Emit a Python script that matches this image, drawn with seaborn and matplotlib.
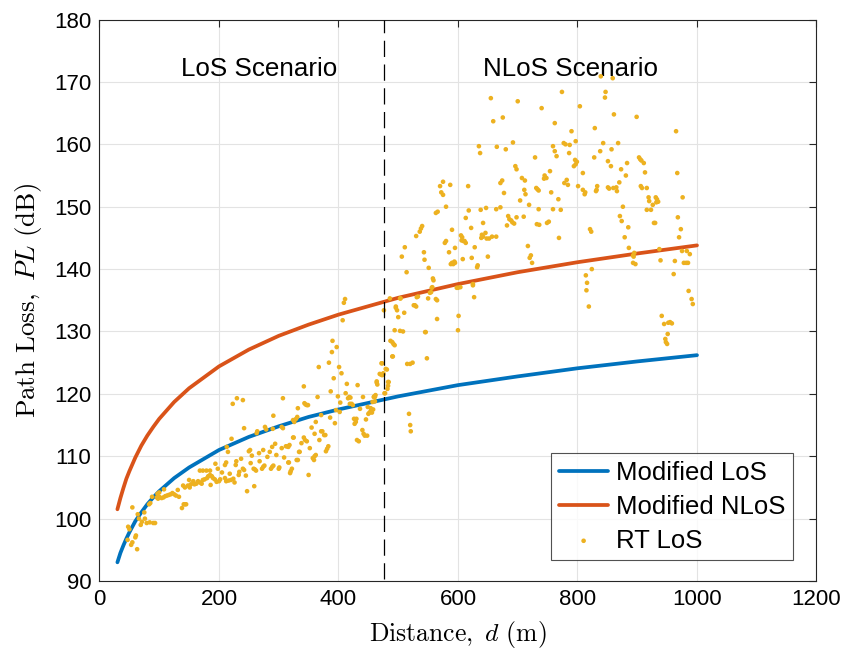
import numpy as np
import pandas as pd
import matplotlib
matplotlib.use("Agg")
import matplotlib.pyplot as plt
import seaborn as sns

# ---- model curves ----
dist_model = [30, 35, 40, 45, 50, 60, 70, 80, 90, 100, 125, 150, 200, 250, 300,
              350, 400, 500, 600, 700, 800, 900, 1000]
pl_los = [93.0, 94.5, 95.7, 96.8, 97.8, 99.6, 101.0, 102.3, 103.4, 104.4, 106.5,
          108.2, 111.0, 113.1, 114.8, 116.3, 117.5, 119.6, 121.4, 122.8, 124.1,
          125.2, 126.2]
pl_nlos = [101.5, 103.3, 104.9, 106.4, 107.6, 109.8, 111.7, 113.3, 114.7, 116.0,
           118.7, 120.9, 124.4, 127.1, 129.3, 131.1, 132.7, 135.4, 137.6, 139.5,
           141.1, 142.5, 143.8]

# ---- ray-tracing samples ----
rt_pts = [
(55,101.8),(48,98.7),(50,98.3),(47,96.6),(53,95.8),(55,96.2),(63,95.1),(60,97),(61,97.3),
(64,100.7),(66,100),(69,99),(71,99.5),(75,101),(76,100),(79,99.3),(84,99.4),(90,99.3),
(93,99.3),(83,102.3),(85,102.5),(88,103.5),(96,103.4),(98,103.2),(100,103.5),(104,103.3),
(107,103.4),(110,103.6),(113,103.7),(116,103.8),(119,103.9),(122,104.1),(125,103.9),
(128,103.7),(133,103.5),(97,104),(100,104.2),(108,104.7),(138,101.7),(141,102.3),
(143,102.3),(145,102.3),(131,104.6),(140,105.3),(143,105),(148,105.3),(151,105),
(153,105.5),(157,106),(159,105.5),(162,105.6),(165,106),(168,105.8),(171,105.6),
(173,106.2),(176,106.3),(150,106.2),(168,107.7),(173,107.7),(179,107.7),(185,107.7),
(180,106.5),(182,106.8),(185,107),(188,106.8),(190,106.5),(193,106.3),(194,108.8),
(200,106),(202,106.3),(198,108),(210,106.5),(212,106),(216,106.1),(220,106.2),
(224,106.4),(210,108.6),(212,109),(213,111.5),(215,110.7),(221,112.8),(223,118.4),
(230,119.3),(240,119),(228,108.6),(229,109.2),(233,107),(234,107.5),(240,108),
(242,107.8),(242,114.5),(247,104.4),(250,110.8),(252,111),(255,110.1),(258,108),
(260,107.9),(262,107.7),(259,105.2),(263,113.7),(264,114),(267,110.5),(272,108),
(274,108.3),(276,108.5),(274,111),(277,114.7),(279,114.3),(287,108),(289,108.3),
(291,108.5),(285,110.7),(289,111.5),(290,114.4),(291,116.5),(294,112),(300,108),
(301,108.2),(305,111.3),(307,119.3),(307,114.5),(314,111.6),(316,111.5),(318,111.8),
(316,109),(320,107.6),(322,108),(324,113),(329,116),(331,116.3),(330,109.4),(334,110.7),
(305,114.7),(312,111.6),(317,109),(319,107.3),(324,115.8),(326,115.5),(325,113),
(332,109.4),(335,110.7),(332,117.7),(343,118.5),(345,118.3),(347,118.2),(349,118.2),
(342,113),(344,112.6),(342,121.2),(347,112.4),(350,107),(357,109.7),(359,109.4),
(360,110),(362,110.2),(360,113.6),(362,115.5),(365,119.5),(367,124.3),(371,114),
(373,114),(376,113.4),(378,113.4),(371,116.6),(379,110.8),(381,111.2),(383,111.6),
(384,125),(387,120.4),(389,126.7),(390,128.5),(397,127.5),(392,122.5),(396,117.4),
(399,119.6),(401,124.3),(402,117.1),(405,123.3),(407,131.8),(409,134.6),(411,135.2),
(412,120.1),(416,119.3),(418,119.5),(420,119.4),(419,118.4),(422,118.4),(424,118.2),
(426,116),(430,116),(427,115.2),(429,115.5),(431,112.6),(434,112.4),(432,121.4),
(440,114.2),(442,113.6),(444,113.3),(448,113.3),(441,119.5),(450,116.8),(452,117),
(454,117.2),(456,117),(458,117.5),(449,117.9),(459,119.5),(461,119.5),(462,119.8),
(461,118.8),(464,121.8),(465,121.5),(471,123.1),(473,123.0),(475,123.1),(473,124.9),
(476,133.4),(479,124),(483,121.3),(484,121.9),(477,120.1),(472,124.9),(475,123.3),
(469,123.2),(481,123.9),(464,122),(483,121.9),(482,120.8),(478,120.1),(460,119.6),
(457,118.7),(454,117.7),
(186,105.4),(196,105.9),(205,107.4),(218,107.2),(226,105.8),(237,109.6),(245,106.9),
(253,108.9),(268,109.2),(281,109.9),(296,110.2),(309,109.8),(338,112.1),(352,111.3),
(355,114.6),(368,112.6),(386,116.2),(394,115.3),(403,118.6),(414,121.6),(436,117.6),
(446,115.9),
(486,135.3),(490,128.3),(492,128),(494,127.8),(490,126),(494,130.2),(503,130.1),
(508,130),(496,133.8),(498,133.4),(500,132.3),(503,135.3),(510,133),(520,124.8),
(524,125),(518,116.8),(520,115),(521,114),(528,134.2),(530,134),(531,135.5),(533,135.6),
(546,129.9),(548,125.7),(550,135.3),(555,136.3),(556,137),(565,135),(565,132),(598,137),
(600,130.2),(601,132.5),(625,137.4),(627,135.5),
(570,153.3),(572,152.3),(575,151.9),(575,154),(587,153.5),(617,153.3),(580,150),
(563,149),(566,149.2),(540,146.9),(536,146),(538,146.5),(530,145.3),(590,146.3),
(578,144.2),(580,144.5),(511,143.5),(543,142.7),(544,141.5),(506,142),(585,142.7),
(595,143.4),(607,145.1),(609,144.5),(613,144.2),(611,144.5),(618,149.4),(613,148.2),
(622,146.6),(628,143.5),(608,141.6),(623,141.8),(588,140.8),(592,140.8),(594,141.2),
(551,140.2),(514,139.5),(632,140.3),(633,140.6),(558,138.5),(559,138.2),(557,137.1),
(553,136.2),(600,137),(604,137.1),(487,128.5),(491,126),(515,124.8),(545,129.9),
(563,135.2),(526,134.2),(496,134),(504,135.3),
(655,167.4),(700,166.9),(659,163.7),(675,164.3),(740,165.8),(774,168.4),(804,166.1),
(762,163.4),(790,162.1),(635,159.7),(637,158.6),(665,159.6),(680,159.2),(692,160.3),
(729,157.9),(759,159.7),(762,158.9),(765,158.1),(777,160.2),(780,160),(787,159.9),
(797,160.5),(786,158.6),(696,156.5),(698,156),(707,154.6),(712,154.2),(745,155),
(748,154.6),(744,154.5),(754,155.7),(782,154.3),(784,153.5),(778,153.8),(794,156.5),
(796,157.5),(799,157.2),(797,156.8),(809,155.4),(671,153.8),(674,154.2),(677,152.2),
(711,152.7),(713,152),(704,151),(731,153),(733,152.8),(735,152.6),(756,152.3),
(809,152.7),(812,152),(813,152.3),(768,151.2),(638,149.5),(647,149.8),(664,149.6),
(671,149.9),(719,150.3),(735,149.6),(759,149.6),(772,149.5),(642,147.4),(684,148.5),
(686,148),(689,147.8),(691,147.5),(694,147.3),(698,148.3),(710,148.4),(682,147),
(732,147.2),(736,147.1),(749,147.4),(752,147.6),(605,145.4),(606,144.6),(640,145.5),
(642,145.2),(646,145.8),(648,144.9),(652,144.9),(657,145.2),(664,145.2),(639,145),
(717,143.7),(720,141.8),(722,142.2),(724,141),(769,145),(650,142),(590,141),(595,141),
(625,137.6),(814,139),(816,137.8),(815,136.6),(819,134),
(839,170.9),(859,170.6),(847,168.4),(846,167.5),(861,164.8),(899,164.4),(829,162.6),
(965,162.1),(843,160.2),(868,160.2),(838,158.9),(857,159.2),(828,157.9),(851,157.3),
(856,156.5),(903,157.9),(905,157.6),(907,157.4),(911,157),(883,157),(873,156),
(913,155.5),(881,155),(967,155.4),(870,153.9),(801,153.3),(832,152.7),(833,153.3),
(831,152.5),(851,153.1),(853,152.9),(860,153),(865,153.1),(866,152.5),(908,153),
(906,153.3),(916,153),(919,151.5),(920,150.9),(931,151.5),(933,151.2),(935,150.8),
(932,150.7),(976,151.5),(926,150.3),(916,149.5),(923,149.5),(876,150),(871,148.5),
(874,147.7),(928,147.4),(930,147.4),(968,148.3),(885,146.7),(821,146.4),(823,146),
(973,146.4),(879,145.1),(970,145.1),(886,143.4),(895,142.6),(893,142.2),(894,142),
(937,143.2),(975,142.9),(983,142.9),(988,142.4),(939,141.4),(963,141.3),(893,141),
(897,140.8),(978,141),(982,141),(985,141),(824,140),(961,139.2),(986,136.5),(991,135.2),
(993,134.4),(941,132.5),(945,131.2),(952,131.4),(955,131.5),(958,131.3),(951,129.6),
(947,128.8),(948,128.3),(950,128),
]
rt_dist = [p[0] for p in rt_pts]
rt_pl = [p[1] for p in rt_pts]

boundary_d = 476
x_ticks = [0, 200, 400, 600, 800, 1000, 1200]
y_ticks = [90, 100, 110, 120, 130, 140, 150, 160, 170, 180]

# ---- style ----
sns.set_style("white")
plt.rcParams['font.family'] = ['Liberation Sans', 'DejaVu Sans']
plt.rcParams['mathtext.fontset'] = 'cm'
plt.rcParams['text.color'] = 'black'
plt.rcParams['axes.labelcolor'] = 'black'

C_LOS = '#0072BD'
C_NLOS = '#D95319'
C_RT = '#EDB120'

fig = plt.figure(figsize=(8.46, 6.56), dpi=100)
ax = fig.add_axes([0.1176, 0.1143, 0.8475, 0.8559])

df_los = pd.DataFrame({'d': dist_model, 'pl': pl_los})
df_nlos = pd.DataFrame({'d': dist_model, 'pl': pl_nlos})
df_rt = pd.DataFrame({'d': rt_dist, 'pl': rt_pl})

sns.lineplot(data=df_los, x='d', y='pl', ax=ax, color=C_LOS, lw=2.7,
             label='Modified LoS', zorder=3)
sns.lineplot(data=df_nlos, x='d', y='pl', ax=ax, color=C_NLOS, lw=2.7,
             label='Modified NLoS', zorder=3)
sns.scatterplot(data=df_rt, x='d', y='pl', ax=ax, color=C_RT, s=11,
                edgecolor='none', linewidth=0, label='RT LoS', zorder=4)

ax.plot([boundary_d, boundary_d], [90.4, 180], color='black', lw=0.9,
        dashes=(13, 6), zorder=5)

ax.set_xlim(0, 1200)
ax.set_ylim(90, 180)
ax.set_xticks(x_ticks)
ax.set_yticks(y_ticks)
ax.grid(True, color='#e3e3e3', lw=0.8)
ax.set_axisbelow(True)
for s in ax.spines.values():
    s.set_color('#262626')
    s.set_linewidth(0.8)
    s.set_visible(True)
ax.tick_params(direction='in', length=5, width=0.8, color='#262626',
               labelsize=16, top=True, right=True, labelcolor='black', pad=6)

ax.set_xlabel(r'$\mathrm{Distance,}\ d\ \mathrm{(m)}$', fontsize=18.5, labelpad=6)
ax.set_ylabel(r'$\mathrm{Path\ Loss,}\ PL\ \mathrm{(dB)}$', fontsize=19.5, labelpad=7)

ax.text(268, 172.0, 'LoS Scenario', ha='center', va='center', fontsize=18.7)
ax.text(789, 172.0, 'NLoS Scenario', ha='center', va='center', fontsize=18.7)

leg = ax.legend(loc='lower right', bbox_to_anchor=(0.967, 0.037), fontsize=18.5,
                frameon=True, fancybox=False, edgecolor='#262626',
                handlelength=1.9, borderpad=0.3, labelspacing=0.38,
                handletextpad=0.3, markerscale=1.0, borderaxespad=0)
leg.get_frame().set_linewidth(0.8)

fig.savefig('out.png', dpi=100)
